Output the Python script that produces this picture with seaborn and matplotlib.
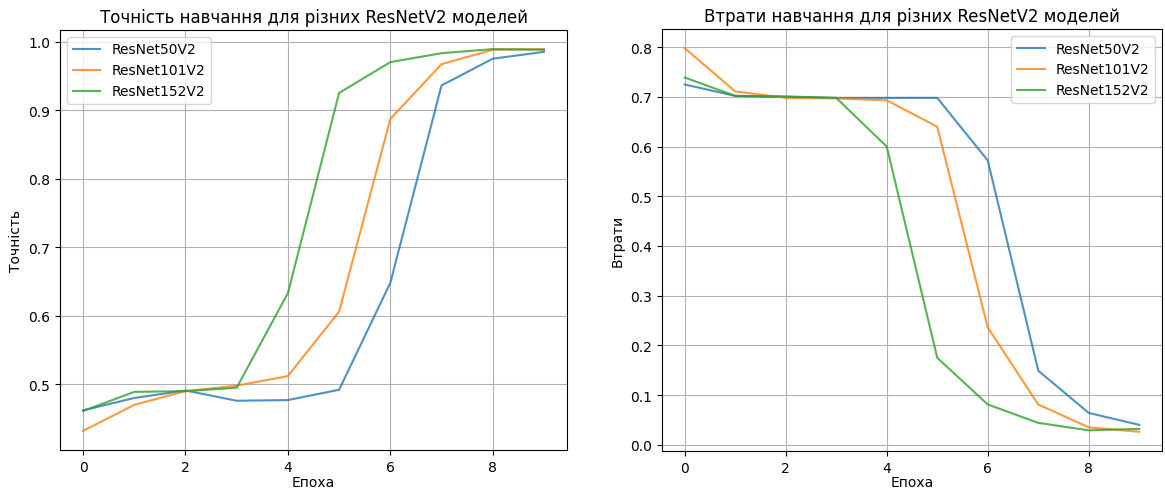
import numpy as np
import pandas as pd
import matplotlib
matplotlib.use("Agg")
import matplotlib.pyplot as plt
import seaborn as sns

# epochs and models
epochs = list(range(10))
models = ['ResNet50V2', 'ResNet101V2', 'ResNet152V2']

# training accuracy per model
acc_50 = [0.462, 0.480, 0.491, 0.476, 0.477, 0.492, 0.648, 0.936, 0.975, 0.985]
acc_101 = [0.432, 0.470, 0.490, 0.498, 0.512, 0.606, 0.887, 0.967, 0.988, 0.989]
acc_152 = [0.461, 0.489, 0.490, 0.495, 0.633, 0.925, 0.970, 0.983, 0.989, 0.988]

# training loss per model
loss_50 = [0.725, 0.702, 0.700, 0.698, 0.698, 0.698, 0.572, 0.149, 0.064, 0.040]
loss_101 = [0.798, 0.711, 0.698, 0.697, 0.693, 0.640, 0.236, 0.081, 0.035, 0.026]
loss_152 = [0.739, 0.702, 0.701, 0.698, 0.600, 0.175, 0.081, 0.044, 0.029, 0.032]


def to_long(series):
    frames = []
    for name, vals in zip(models, series):
        frames.append(pd.DataFrame({'epoch': epochs, 'value': vals, 'model': name}))
    return pd.concat(frames, ignore_index=True)


acc_df = to_long([acc_50, acc_101, acc_152])
loss_df = to_long([loss_50, loss_101, loss_152])

palette = dict(zip(models, ['#1f77b4', '#ff7f0e', '#2ca02c']))

fig = plt.figure(figsize=(11.65, 4.89), dpi=100)
ax1 = fig.add_axes([60 / 1165, 38 / 489, 507 / 1165, 420 / 489])
ax2 = fig.add_axes([662 / 1165, 37 / 489, 500 / 1165, 422 / 489])

# Accuracy
sns.lineplot(data=acc_df, x='epoch', y='value', hue='model', palette=palette,
             alpha=0.8, linewidth=1.5, ax=ax1)
ax1.set_title('Точність навчання для різних ResNetV2 моделей', fontsize=12)
ax1.set_xlabel('Епоха', labelpad=1)
ax1.set_ylabel('Точність')
ax1.grid(True)
ax1.legend(loc='upper left', title=None)

# Loss
sns.lineplot(data=loss_df, x='epoch', y='value', hue='model', palette=palette,
             alpha=0.8, linewidth=1.5, ax=ax2)
ax2.set_title('Втрати навчання для різних ResNetV2 моделей', fontsize=12)
ax2.set_xlabel('Епоха', labelpad=0)
ax2.set_ylabel('Втрати')
ax2.grid(True)
ax2.legend(loc='upper right', title=None)

fig.savefig('out.png', dpi=100)
